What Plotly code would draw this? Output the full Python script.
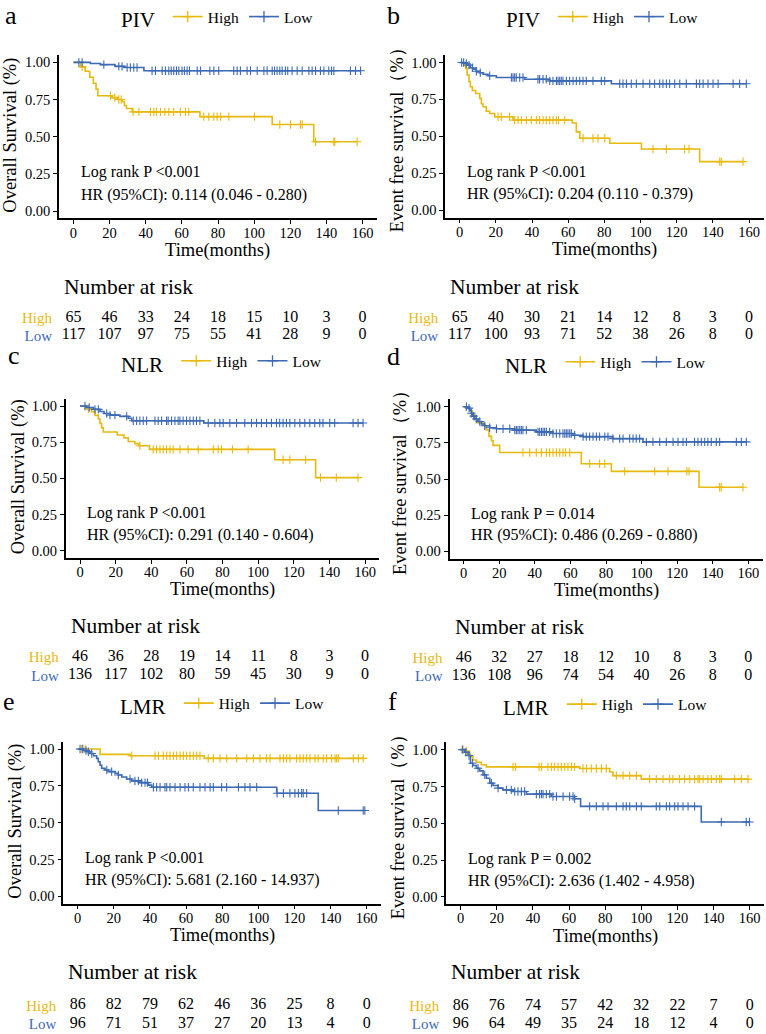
import numpy as np
import plotly.graph_objects as go

W, H = 766, 1034
FONT = "Liberation Serif"
YEL = "#E8B90F"
BLU = "#3D6AB5"

risk_times = [0, 20, 40, 60, 80, 100, 120, 140, 160]
x_ticks = [0, 20, 40, 60, 80, 100, 120, 140, 160]
y_ticks = [0.0, 0.25, 0.5, 0.75, 1.0]
y_ticktext = ["0.00", "0.25", "0.50", "0.75", "1.00"]

# ---------------- panel a : PIV, overall survival ----------------
a_high_t = [4, 6.5, 9, 11, 12.5, 13.5, 21.4, 24.2, 26.9, 28.2, 29.3, 32.5, 70, 110, 133]
a_high_s = [0.97, 0.94, 0.90, 0.86, 0.82, 0.775, 0.763, 0.75, 0.737, 0.71, 0.69, 0.667, 0.635, 0.582, 0.466]
a_high_c = [4.8, 20.5, 22.9, 25.1, 26.4, 33, 36.2, 42.6, 44.5, 45.9, 48.2, 50.6, 52.8, 55.5, 59.2, 62, 63.8,
            72.1, 74.9, 77.7, 79.5, 81.4, 86, 100.2, 114.2, 120.1, 125.6, 126.6, 134, 144.1, 144.6, 157]
a_low_t = [9.4, 15, 23, 28, 39]
a_low_s = [0.992, 0.985, 0.973, 0.966, 0.944]
a_low_c = [3, 4.8, 16.8, 25.1, 26.9, 29.7, 31.5, 33.4, 35.2, 43.5, 45.4, 49.1, 50.9, 52.8, 54.1, 55.5, 57, 58.3,
           60.1, 61.4, 62.9, 64.2, 68.5, 70.3, 75.5, 77.7, 80.4, 88.7, 90.6, 92.4, 96.1, 98, 101.7, 105.4, 107.2,
           110, 111.3, 112.7, 114.2, 115.5, 117.3, 118.6, 121, 123.8, 126.6, 130.3, 132.1, 134, 136.7, 138.6,
           141.3, 142.8, 144.1, 153.3, 156.1, 158.9]
a_risk_high = [65, 46, 33, 24, 18, 15, 10, 3, 0]
a_risk_low = [117, 107, 97, 75, 55, 41, 28, 9, 0]

# ---------------- panel b : PIV, event free survival ----------------
b_high_t = [2.2, 3.3, 4.1, 5.2, 5.9, 7, 8.8, 11.1, 12, 12.9, 14.7, 16.6, 19.4, 29.5, 62.3, 64.5, 66.4, 83, 100.5, 132.7]
b_high_s = [0.98, 0.96, 0.915, 0.87, 0.835, 0.81, 0.79, 0.757, 0.72, 0.70, 0.67, 0.655, 0.633, 0.61, 0.59, 0.53,
            0.487, 0.453, 0.414, 0.329]
b_high_c = [21.2, 23, 27.6, 30.4, 32.3, 34.1, 36.9, 39.6, 42.4, 44.2, 46.1, 47.9, 49.8, 51.6, 53.5, 54.7, 58.1,
            68.2, 73.7, 76.5, 80.2, 106.9, 114.3, 124.4, 126.8, 143.8, 144.7, 156.7]
b_low_t = [2.8, 4.6, 5.9, 7.4, 9.2, 11.1, 12.9, 15.7, 20.3, 35.9, 49.8, 83.9]
b_low_s = [0.993, 0.982, 0.964, 0.955, 0.94, 0.93, 0.92, 0.91, 0.898, 0.886, 0.875, 0.856]
b_low_c = [1.1, 2.2, 3.7, 5.2, 7, 9.2, 11.4, 16.6, 28.6, 29.5, 30.4, 31.3, 33.2, 35, 43.3, 44.2, 46.1, 47.9, 49.8,
           51.6, 53.5, 54.4, 55.3, 56.2, 57.1, 59, 60.8, 62.7, 64.5, 66.4, 68.2, 70, 73.7, 78.3, 80.2, 88.5, 90.3,
           92.2, 94.9, 97.7, 101.4, 105.1, 107.8, 110.6, 112.4, 114.3, 116.1, 118.9, 121.7, 125.3, 130.9, 132.7,
           134.6, 137.3, 140.1, 142.9, 151.2, 154.8, 158.5]
b_risk_high = [65, 40, 30, 21, 14, 12, 8, 3, 0]
b_risk_low = [117, 100, 93, 71, 52, 38, 26, 8, 0]

# ---------------- panel c : NLR, overall survival ----------------
c_high_t = [4.1, 6.5, 8.4, 10.3, 11.2, 12.1, 13.1, 20.9, 24.7, 27.1, 30.8, 33, 39, 109.3, 132.3]
c_high_s = [0.98, 0.96, 0.935, 0.91, 0.88, 0.85, 0.82, 0.80, 0.78, 0.755, 0.74, 0.725, 0.70, 0.628, 0.505]
c_high_c = [4.7, 33.6, 41.1, 43, 44.9, 46.7, 48.6, 50.5, 52.3, 56.1, 60.7, 66.4, 74.8, 77.6, 79.4, 85.6, 94.4,
            114, 117.8, 126.7, 135, 143.9, 156.1]
c_low_t = [3.7, 7.5, 11.2, 13.5, 16.8, 22.4, 27.1, 29, 69.5]
c_low_s = [0.99, 0.977, 0.962, 0.948, 0.937, 0.928, 0.915, 0.898, 0.883]
c_low_c = [2.8, 5.2, 8.4, 10.3, 15, 16.8, 19.6, 26.2, 29.9, 31.8, 33.6, 35.5, 37.4, 42.1, 43.9, 45.8, 48.6, 49.5,
           51.4, 53.3, 55.1, 56.1, 57.9, 59.8, 61.7, 63.6, 65.4, 67.3, 72, 75.7, 78.5, 80.4, 84.1, 87.9, 92.5,
           96.3, 99.1, 101.9, 104.7, 107.5, 110.3, 112.1, 114, 115.9, 117.8, 120.6, 123.4, 126.2, 129, 131.8,
           134.6, 136.4, 140.2, 143, 153.3, 156.1, 158.9]
c_risk_high = [46, 36, 28, 19, 14, 11, 8, 3, 0]
c_risk_low = [136, 117, 102, 80, 59, 45, 30, 9, 0]

# ---------------- panel d : NLR, event free survival ----------------
d_high_t = [2.4, 3.7, 4.9, 6.2, 8, 10.9, 12.7, 14.2, 15.6, 16.5, 20.2, 66.1, 83, 132.3]
d_high_s = [0.988, 0.972, 0.945, 0.91, 0.888, 0.87, 0.84, 0.795, 0.765, 0.733, 0.683, 0.606, 0.553, 0.443]
d_high_c = [33.3, 37.1, 40.8, 43.7, 46.5, 48.3, 50.2, 52.1, 54, 55.8, 57.3, 59.6, 70.8, 76.4, 79.3, 90.5, 107.4,
            114.9, 125.5, 126.7, 143.9, 144.8, 157]
d_low_t = [2.4, 3.4, 4.3, 4.9, 6.2, 8, 9.9, 11.8, 14.6, 18.4, 28.7, 40.8, 50.2, 61.5, 67.1, 83.9, 100.8]
d_low_s = [0.99, 0.975, 0.955, 0.935, 0.915, 0.898, 0.88, 0.868, 0.855, 0.848, 0.838, 0.826, 0.815, 0.803,
           0.793, 0.779, 0.757]
d_low_c = [1.5, 3, 4.3, 5.6, 7.1, 9, 11.8, 14.6, 18.4, 22.1, 25.9, 28.7, 29.6, 30.5, 31.5, 32.4, 33.3, 35.2,
           41.8, 42.7, 43.7, 44.6, 45.5, 46.5, 48.3, 50.2, 52.1, 54, 55.8, 56.8, 57.7, 58.6, 59.6, 60.5, 62.4,
           67.1, 68.9, 70.8, 72.7, 74.6, 76.4, 79.3, 81.1, 83.9, 87.7, 89.6, 93.3, 95.2, 97, 98.9, 102.7, 106.4,
           110.2, 113.9, 117.7, 120.5, 123.3, 125.2, 129.8, 131.7, 133.6, 135.5, 137.3, 139.2, 142, 143.9,
           153.3, 156.1, 158.9]
d_risk_high = [46, 32, 27, 18, 12, 10, 8, 3, 0]
d_risk_low = [136, 108, 96, 74, 54, 40, 26, 8, 0]

# ---------------- panel e : LMR, overall survival ----------------
e_high_t = [12.4, 29, 70]
e_high_s = [0.964, 0.955, 0.937]
e_high_c = [2.2, 4.1, 29.9, 42.8, 44.7, 47.4, 49.3, 51.1, 53, 54.8, 56.7, 58.5, 60.3, 62.2, 64, 65.9, 67.7,
            72.3, 75.1, 78.8, 82.5, 88, 93.6, 97.3, 100.9, 104.6, 106.5, 112, 113.9, 115.7, 117.5, 121.2, 123.1,
            124.9, 126.8, 128.6, 131.4, 133.2, 136, 137.8, 140.6, 142.5, 143.4, 144.3, 152.6, 155.4, 158.1]
e_low_t = [3.1, 5.4, 6.8, 8.7, 10.5, 11.4, 12.4, 13.3, 15.1, 17, 20.7, 22.5, 24.4, 27.1, 29.9, 34.5, 39.1, 41,
           110.2, 133.2]
e_low_s = [0.99, 0.982, 0.97, 0.955, 0.937, 0.914, 0.89, 0.87, 0.858, 0.847, 0.836, 0.824, 0.81, 0.797, 0.784,
           0.772, 0.755, 0.741, 0.70, 0.583]
e_low_c = [1.3, 2.8, 4.6, 5.9, 7.8, 16.1, 18.8, 22.5, 29, 31.7, 33.6, 35.4, 37.3, 38.6, 41.9, 43.7, 45.6, 48.3,
           49.3, 51.1, 53.9, 56.7, 59.4, 61.3, 64, 67.7, 70.5, 73.3, 75.1, 79.7, 82.5, 89, 92.6, 95.4, 99.1,
           110.4, 113.9, 117.5, 120.3, 122.2, 124, 124.9, 126.8, 144.3, 158.1, 159]
e_risk_high = [86, 82, 79, 62, 46, 36, 25, 8, 0]
e_risk_low = [96, 71, 51, 37, 27, 20, 13, 4, 0]

# ---------------- panel f : LMR, event free survival ----------------
f_high_t = [2.2, 4.1, 5.4, 6.8, 8.7, 11.4, 14.2, 65.9, 82.5, 84.3, 100]
f_high_s = [0.99, 0.975, 0.953, 0.93, 0.915, 0.898, 0.883, 0.872, 0.848, 0.824, 0.80]
f_high_c = [1.3, 3.1, 29, 30.4, 43.4, 44.7, 48.3, 50.2, 52, 53.9, 55.7, 57.6, 59.4, 61.3, 63.1, 67.7, 69.6, 72.3,
            75.1, 77.9, 80.6, 86.2, 89.9, 93.6, 97.3, 104.6, 108.3, 112, 115.7, 117.5, 121.2, 124, 126.8, 129.5,
            131.4, 132.3, 134.2, 136.9, 138.8, 141.5, 143.4, 144.3, 151.7, 155.4, 159.1]
f_low_t = [2.2, 4.1, 5.4, 6.8, 8.7, 10.5, 12.4, 14.2, 16.1, 17.9, 20.7, 23.4, 29, 36.4, 50.2, 63.1, 66.4, 133.2]
f_low_s = [0.982, 0.96, 0.908, 0.892, 0.874, 0.856, 0.829, 0.806, 0.773, 0.757, 0.739, 0.727, 0.716, 0.698,
           0.682, 0.667, 0.615, 0.509]
f_low_c = [0.9, 2.8, 4.6, 6.5, 9.6, 13.3, 17, 20.7, 25.3, 28, 29.9, 31.7, 33.6, 35.4, 41.9, 43.7, 44.7, 45.6,
           47.4, 49.3, 51.1, 53, 56.7, 60.3, 62.2, 63.1, 71.4, 75.1, 78.8, 81.6, 86.2, 89.9, 91.7, 93.6, 97.3, 100,
           108.3, 110.2, 113.9, 115.7, 118.5, 120.3, 123.1, 125.9, 129.5, 144.3, 158.1, 159.9]
f_risk_high = [86, 76, 74, 57, 42, 32, 22, 7, 0]
f_risk_low = [96, 64, 49, 35, 24, 18, 12, 4, 0]

# ---------------- texts ----------------
panel_letters = ["a", "b", "c", "d", "e", "f"]
legend_titles = ["PIV", "PIV", "NLR", "NLR", "LMR", "LMR"]
y_titles = ["Overall Survival (%)", "Event free survival（%）", "Overall Survival (%)",
            "Event free survival（%）", "Overall Survival (%)", "Event free survival（%）"]
logrank_texts = ["Log rank P <0.001", "Log rank P <0.001", "Log rank P <0.001",
                 "Log rank P = 0.014", "Log rank P <0.001", "Log rank P = 0.002"]
hr_texts = ["HR (95%CI): 0.114 (0.046 - 0.280)", "HR (95%CI): 0.204 (0.110 - 0.379)",
            "HR (95%CI): 0.291 (0.140 - 0.604)", "HR (95%CI): 0.486 (0.269 - 0.880)",
            "HR (95%CI): 5.681 (2.160 - 14.937)", "HR (95%CI): 2.636 (1.402 - 4.958)"]
group_names = ["High", "Low"]

data = [
    (a_high_t, a_high_s, a_high_c, a_low_t, a_low_s, a_low_c, a_risk_high, a_risk_low),
    (b_high_t, b_high_s, b_high_c, b_low_t, b_low_s, b_low_c, b_risk_high, b_risk_low),
    (c_high_t, c_high_s, c_high_c, c_low_t, c_low_s, c_low_c, c_risk_high, c_risk_low),
    (d_high_t, d_high_s, d_high_c, d_low_t, d_low_s, d_low_c, d_risk_high, d_risk_low),
    (e_high_t, e_high_s, e_high_c, e_low_t, e_low_s, e_low_c, e_risk_high, e_risk_low),
    (f_high_t, f_high_s, f_high_c, f_low_t, f_low_s, f_low_c, f_risk_high, f_risk_low),
]

# ---------------- layout geometry (pixels) ----------------
plot_px = [(59, 377, 53.2, 217.5), (445.2, 763.5, 53.3, 216.7),
           (65.75, 379.25, 398.7, 558.6), (449.5, 762.5, 399.4, 559.3),
           (63.25, 381.1, 743.3, 906.1), (446.25, 764.1, 743.9, 906.7)]
risk_rows_px = [(317.3, 335), (317.3, 335), (658.3, 676.7), (659, 677), (1008.3, 1026.7), (1008.5, 1027)]
nar_y_px = [286, 286, 627.3, 628.3, 975, 975]
legend_px = [(219, 17), (604, 17), (223, 363), (607, 364), (224, 707), (607, 708)]
letter_px = [(3, 13.5), (385, 13.5), (6, 355), (385, 356), (1, 703), (386, 703)]
ytitle_x_px = [11, 397, 18, 400, 16, 398]
xtitle_off = 33


def fx(p):
    return p / W


def fy(p):
    return 1 - p / H


def km_curve(t, s, c):
    t = np.asarray(t, float)
    s = np.asarray(s, float)
    end = max(max(c), t[-1])
    xs = np.concatenate([[0], t, [end]])
    ys = np.concatenate([[1.0], s, [s[-1]]])
    cc = np.asarray(c, float)
    idx = np.searchsorted(t, cc, side="right")
    levels = np.concatenate([[1.0], s])
    cy = levels[idx]
    return xs, ys, cc, cy


fig = go.Figure()
layout = dict(width=W, height=H, margin=dict(l=0, r=0, t=0, b=0),
              paper_bgcolor="white", plot_bgcolor="white", showlegend=True,
              font=dict(family=FONT, color="black"))
annotations = []

for i in range(6):
    k = i + 1
    kt = i + 7
    xa = "x" if k == 1 else f"x{k}"
    ya = "y" if k == 1 else f"y{k}"
    leg = "legend" if k == 1 else f"legend{k}"
    ht, hs, hc, lt, ls, lc, rh, rl = data[i]
    for gname, (t, s, c), col in zip(group_names, [(ht, hs, hc), (lt, ls, lc)], [YEL, BLU]):
        xs, ys, cx, cy = km_curve(t, s, c)
        fig.add_trace(go.Scatter(x=xs, y=ys, mode="lines", line=dict(color=col, width=1.6, shape="hv"),
                                 xaxis=xa, yaxis=ya, showlegend=False, hoverinfo="skip"))
        fig.add_trace(go.Scatter(x=cx, y=cy, mode="markers",
                                 marker=dict(symbol="cross-thin", size=6, line=dict(color=col, width=1.1)),
                                 xaxis=xa, yaxis=ya, showlegend=False, hoverinfo="skip"))
        fig.add_trace(go.Scatter(x=[None], y=[None], mode="lines+markers", name=gname,
                                 line=dict(color=col, width=1.6),
                                 marker=dict(symbol="cross-thin", size=8, line=dict(color=col, width=1.3)),
                                 xaxis=xa, yaxis=ya, legend=leg, showlegend=True))
    # risk table
    xt = f"x{kt}"
    yt = f"y{kt}"
    for vals, yv in [(rh, 1), (rl, 0)]:
        fig.add_trace(go.Scatter(x=risk_times, y=[yv] * len(risk_times), mode="text",
                                 text=[str(v) for v in vals],
                                 textfont=dict(family=FONT, size=16, color="black"),
                                 xaxis=xt, yaxis=yt, showlegend=False, hoverinfo="skip"))

    L, R, T, B = plot_px[i]
    layout[f"xaxis{'' if k == 1 else k}"] = dict(
        domain=[fx(L), fx(R)], range=[-8, 168], anchor=ya, tickvals=x_ticks,
        showline=True, linecolor="black", linewidth=1.5, ticks="outside", ticklen=4, tickwidth=1.2,
        tickcolor="black", showgrid=False, zeroline=False, ticklabelstandoff=-4,
        tickfont=dict(family=FONT, size=14.5, color="black"))
    layout[f"yaxis{'' if k == 1 else k}"] = dict(
        domain=[fy(B), fy(T)], range=[-0.05, 1.05], anchor=xa, tickvals=y_ticks, ticktext=y_ticktext,
        showline=True, linecolor="black", linewidth=1.5, ticks="outside", ticklen=4, tickwidth=1.2,
        tickcolor="black", showgrid=False, zeroline=False,
        tickfont=dict(family=FONT, size=14.5, color="black"))
    hy, ly = risk_rows_px[i]
    d = ly - hy
    layout[f"xaxis{kt}"] = dict(domain=[fx(L), fx(R)], range=[-8, 168], anchor=yt, visible=False)
    layout[f"yaxis{kt}"] = dict(
        domain=[fy(ly + 0.3 * d), fy(hy - 0.5 * d)], range=[-0.3, 1.5], anchor=xt,
        tickvals=[1, 0],
        ticktext=[f'<span style="color:{YEL}">High</span>', f'<span style="color:{BLU}">Low</span>'],
        showline=False, showgrid=False, zeroline=False, ticks="outside", ticklen=3,
        tickcolor="rgba(0,0,0,0)", tickfont=dict(family=FONT, size=15))
    # legend
    lx, lyp = legend_px[i]
    layout[leg] = dict(x=fx(lx), y=fy(lyp), xanchor="center", yanchor="middle", orientation="h",
                       title=dict(text=legend_titles[i] + " ", side="left", font=dict(family=FONT, size=21)),
                       font=dict(family=FONT, size=15.5, color="black"), bgcolor="rgba(0,0,0,0)",
                       itemwidth=30, tracegroupgap=0)
    # annotations
    annotations.append(dict(text=panel_letters[i], x=fx(letter_px[i][0]), y=fy(letter_px[i][1]),
                            xref="paper", yref="paper", xanchor="left", yanchor="middle",
                            showarrow=False, font=dict(family=FONT, size=26)))
    annotations.append(dict(text=y_titles[i], x=fx(ytitle_x_px[i]), y=fy((T + B) / 2 - 1),
                            xref="paper", yref="paper", xanchor="center", yanchor="middle",
                            textangle=-90, showarrow=False, font=dict(family=FONT, size=18.5)))
    annotations.append(dict(text="Time(months)", x=fx((L + R) / 2), y=fy(B + xtitle_off - 1),
                            xref="paper", yref="paper", xanchor="center", yanchor="middle",
                            showarrow=False, font=dict(family=FONT, size=18.5)))
    annotations.append(dict(text="Number at risk", x=fx(L + 3), y=fy(nar_y_px[i]),
                            xref="paper", yref="paper", xanchor="left", yanchor="middle",
                            showarrow=False, font=dict(family=FONT, size=21.5)))
    annotations.append(dict(text=logrank_texts[i], x=3, y=0.26, xref=xa, yref=ya,
                            xanchor="left", yanchor="middle", showarrow=False,
                            font=dict(family=FONT, size=16)))
    annotations.append(dict(text=hr_texts[i], x=3, y=0.11, xref=xa, yref=ya,
                            xanchor="left", yanchor="middle", showarrow=False,
                            font=dict(family=FONT, size=16)))

layout["annotations"] = annotations
fig.update_layout(**layout)
fig.write_html("out.html", config={"displayModeBar": False},
               post_script="document.body.style.margin='0px';document.body.style.overflow='hidden';")
